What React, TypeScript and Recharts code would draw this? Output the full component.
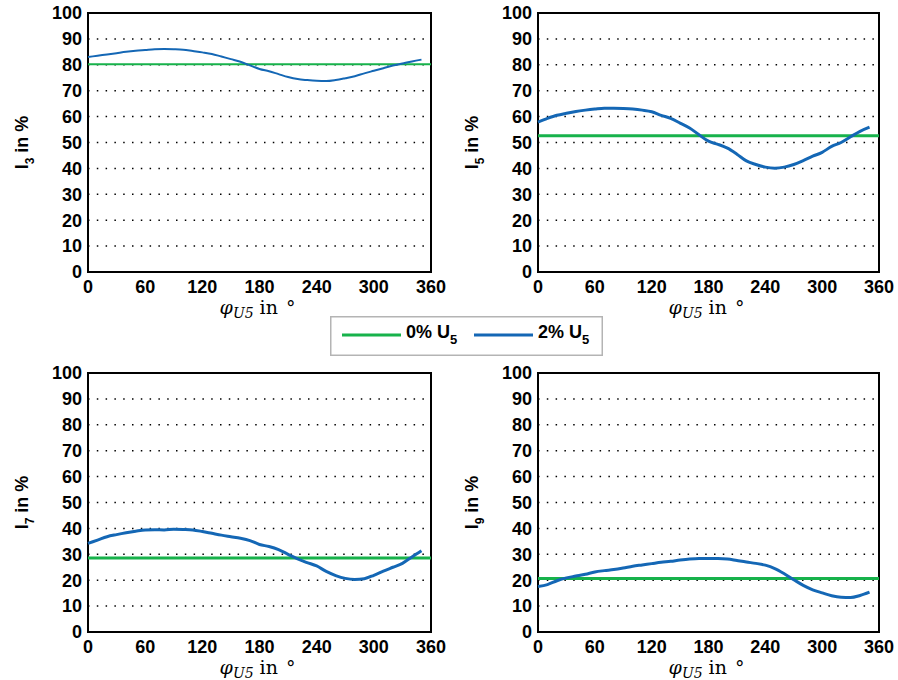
import React from 'react';
import { LineChart, Line, XAxis, YAxis, CartesianGrid, ReferenceArea } from 'recharts';

const phiU5 = [0, 10, 20, 30, 40, 50, 60, 70, 80, 90, 100, 110, 120, 130, 140, 150, 160, 170, 180, 190, 200, 210, 220, 230, 240, 250, 260, 270, 280, 290, 300, 310, 320, 330, 340, 350];

const i3 = [83.0, 83.5, 84.0, 84.5, 85.0, 85.4, 85.7, 86.0, 86.1, 86.0, 85.8, 85.3, 84.8, 84.2, 83.2, 82.2, 81.2, 79.8, 78.4, 77.5, 76.4, 75.3, 74.5, 74.1, 73.8, 73.7, 74.1, 74.8, 75.6, 76.7, 77.7, 78.7, 79.7, 80.5, 81.3, 82.0];
const i5 = [57.9, 59.3, 60.5, 61.3, 62.0, 62.5, 62.9, 63.2, 63.2, 63.1, 62.9, 62.5, 61.9, 60.5, 59.3, 57.5, 55.6, 53.0, 50.5, 49.3, 47.8, 45.5, 42.9, 41.5, 40.5, 40.1, 40.5, 41.5, 43.0, 44.7, 46.2, 48.5, 50.0, 52.2, 54.3, 55.9];
const i7 = [34.2, 35.5, 36.8, 37.6, 38.3, 38.9, 39.4, 39.5, 39.4, 39.7, 39.6, 39.4, 38.8, 38.1, 37.4, 36.8, 36.2, 35.3, 33.8, 33.0, 31.8, 30.0, 28.2, 26.8, 25.5, 23.4, 21.8, 20.7, 20.3, 20.6, 21.9, 23.5, 25.0, 26.5, 29.0, 31.4];
const i9 = [17.6, 18.3, 19.8, 20.9, 21.6, 22.3, 23.2, 23.7, 24.1, 24.7, 25.4, 25.9, 26.4, 26.9, 27.3, 27.8, 28.2, 28.4, 28.4, 28.4, 28.2, 27.6, 27.0, 26.5, 25.8, 24.5, 22.5, 20.2, 18.0, 16.3, 15.1, 14.0, 13.4, 13.3, 14.1, 15.4];

const base3 = 80.2;
const base5 = 52.6;
const base7 = 28.6;
const base9 = 20.7;

const baseRange = [0, 360];
const xTicks = [0, 60, 120, 180, 240, 300, 360];
const yTicks = [0, 10, 20, 30, 40, 50, 60, 70, 80, 90, 100];

const GREEN = '#17b24b';
const BLUE = '#1467b5';

const legendItems = [
  { label: '0% U', sub: '5', color: GREEN },
  { label: '2% U', sub: '5', color: BLUE },
];

const SANS = '"Liberation Sans", Arial, Helvetica, sans-serif';
const SERIF = '"DejaVu Serif", serif';

const YLab = (props: any) => {
  const vb = props.viewBox || { x: 0, y: 0, width: 0, height: 0 };
  const cx = vb.x + 28;
  const cy = vb.y + vb.height / 2;
  return (
    <text x={cx} y={cy} transform={`rotate(-90 ${cx} ${cy})`} textAnchor="middle" fontFamily={SANS} fontWeight="bold" fontSize={18} fill="#000">
      <tspan>I</tspan>
      <tspan dy={6} fontSize={12}>{props.order}</tspan>
      <tspan dy={-6}> in %</tspan>
    </text>
  );
};

const XLab = (props: any) => {
  const vb = props.viewBox || { x: 0, y: 0, width: 0, height: 0 };
  const cx = vb.x + vb.width / 2 - 2;
  const y = vb.y + 42;
  return (
    <text x={cx} y={y} textAnchor="middle" fontFamily={SERIF} fontSize={19} fill="#000">
      <tspan fontStyle="italic">φ</tspan>
      <tspan fontStyle="italic" fontSize={14} dy={4}>U5</tspan>
      <tspan dy={-4} dx={6}>in</tspan>
      <tspan dx={8}>°</tspan>
    </text>
  );
};

type PanelProps = {
  left: number;
  top: number;
  marginRight: number;
  order: string;
  values: number[];
  base: number;
  width: number;
};

const Panel = ({ left, top, marginRight, order, values, base, width }: PanelProps) => {
  const blueData = phiU5.map((x, i) => ({ x, y: values[i] }));
  const greenData = baseRange.map((x) => ({ x, y: base }));
  const tickStyle = { fill: '#000', fontSize: 18, fontWeight: 'bold', fontFamily: SANS };
  return (
    <div style={{ position: 'absolute', left, top }}>
      <LineChart width={449} height={320} margin={{ top: 13, right: marginRight, left: 0, bottom: 0 }}>
        <CartesianGrid vertical={false} stroke="#000" strokeWidth={1.5} strokeDasharray="1.5 7.3" />
        <XAxis
          type="number"
          dataKey="x"
          domain={[0, 360]}
          ticks={xTicks}
          axisLine={false}
          tickLine={false}
          height={48}
          tick={tickStyle}
          interval={0}
          label={<XLab />}
          allowDuplicatedCategory={false}
        />
        <YAxis
          type="number"
          domain={[0, 100]}
          ticks={yTicks}
          axisLine={false}
          tickLine={false}
          width={88}
          tickMargin={0}
          tick={tickStyle}
          interval={0}
          label={<YLab order={order} />}
        />
        <ReferenceArea x1={0} x2={360} y1={0} y2={100} fill="none" fillOpacity={0} stroke="#000" strokeWidth={2} />
        <Line data={greenData} dataKey="y" stroke={GREEN} strokeWidth={width} dot={false} isAnimationActive={false} type="linear" />
        <Line data={blueData} dataKey="y" stroke={BLUE} strokeWidth={width} dot={false} isAnimationActive={false} type="monotone" />
      </LineChart>
    </div>
  );
};

const LegendBox = () => (
  <svg style={{ position: 'absolute', left: 330, top: 316 }} width={273} height={40}>
    <rect x={0.75} y={0.75} width={271.5} height={38.5} fill="#fff" stroke="#b4b4b4" strokeWidth={1.5} />
    {legendItems.map((it, i) => {
      const ox = i * 132;
      return (
        <g key={it.label + i}>
          <line x1={12 + ox} x2={71 + ox} y1={19} y2={19} stroke={it.color} strokeWidth={3} />
          <text x={76 + ox} y={22} fontFamily={SANS} fontWeight="bold" fontSize={18} fill="#000">
            <tspan>{it.label}</tspan>
            <tspan dy={6} fontSize={13}>{it.sub}</tspan>
          </text>
        </g>
      );
    })}
  </svg>
);

export default function App() {
  return (
    <div style={{ position: 'absolute', left: 0, top: 0, width: 898, height: 680, background: '#fff', overflow: 'hidden' }}>
      <Panel left={0} top={0} marginRight={18} order="3" values={i3} base={base3} width={2} />
      <Panel left={450} top={0} marginRight={20} order="5" values={i5} base={base5} width={3} />
      <Panel left={0} top={360} marginRight={18} order="7" values={i7} base={base7} width={3} />
      <Panel left={450} top={360} marginRight={20} order="9" values={i9} base={base9} width={3} />
      <LegendBox />
    </div>
  );
}
